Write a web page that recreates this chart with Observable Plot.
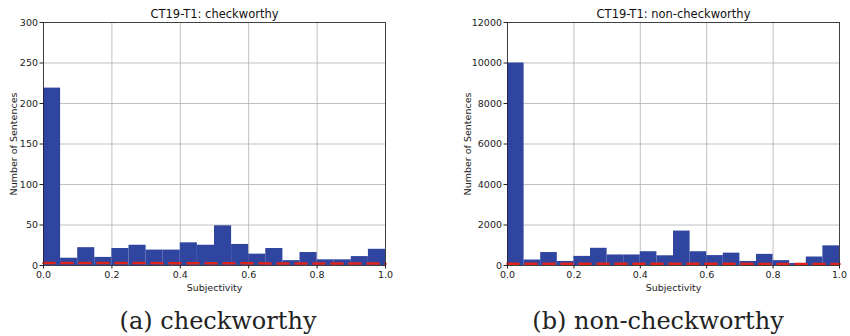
<!DOCTYPE html>
<html><head><meta charset="utf-8">
<script src="https://cdn.jsdelivr.net/npm/d3@7"></script>
<script src="https://cdn.jsdelivr.net/npm/@observablehq/plot@0.6"></script>
<style>
body{margin:0;background:#fff;}
#wrap{position:relative;width:850px;height:336px;overflow:hidden;}
.panel{position:absolute;top:0;}
.cap{position:absolute;top:306px;font-family:"DejaVu Serif","Liberation Serif",serif;font-size:24px;color:#222;white-space:nowrap;transform:translateX(-50%);line-height:30px;}
</style></head><body>
<div id="wrap">
  <div class="panel" id="p1" style="left:0px"></div>
  <div class="panel" id="p2" style="left:425px"></div>
  <div class="cap" style="left:218px">(a) checkworthy</div>
  <div class="cap" style="left:658px">(b) non-checkworthy</div>
</div>
<script>
const binStart = [0.00,0.05,0.10,0.15,0.20,0.25,0.30,0.35,0.40,0.45,0.50,0.55,0.60,0.65,0.70,0.75,0.80,0.85,0.90,0.95];
const binWidth = 0.05;
const checkworthy = [219,9,22,10,21,25,19,19,28,25,49,26,14,21,6,16,7,7,11,20];
const nonCheckworthy = [10000,270,640,200,450,850,520,520,680,480,1700,680,490,610,200,550,240,100,420,970];
const redX = [0,0.25,0.5,0.75,1];
const redCheck = [3,3,2.8,2.5,2.3];
const redNon = [90,90,85,80,80];
const xTicks = [0,0.2,0.4,0.6,0.8,1.0];
const yTicksCheck = [0,50,100,150,200,250,300];
const yTicksNon = [0,2000,4000,6000,8000,10000,12000];
const titles = ["CT19-T1: checkworthy","CT19-T1: non-checkworthy"];

function panel(values, red, yTicks, yMax, title, ml, mr, labelOffset) {
  const data = binStart.map((b,i)=>({x1:b, x2:b+binWidth, y:values[i]}));
  return Plot.plot({
    width: 425, height: 300,
    marginLeft: ml, marginRight: mr, marginTop: 22, marginBottom: 35,
    style: {fontFamily: "DejaVu Sans, sans-serif", fontSize: "9.5px", color: "#222", background: "#fff"},
    x: {domain: [0,1]},
    y: {domain: [0,yMax]},
    marks: [
      Plot.gridX(xTicks, {stroke: "#b0b0b0", strokeOpacity: 1, strokeWidth: 0.8}),
      Plot.gridY(yTicks, {stroke: "#b0b0b0", strokeOpacity: 1, strokeWidth: 0.8}),
      Plot.rectY(data, {x1:"x1", x2:"x2", y:"y", fill:"#2f45a0", inset:0}),
      Plot.lineY(red, {x:(d,i)=>redX[i], y:d=>d, stroke:"#e0241c", strokeWidth:2.5, strokeDasharray:"11,7"}),
      Plot.frame({stroke:"#222", strokeWidth:0.8}),
      Plot.axisX(xTicks, {tickSize:3.5, tickPadding:2, tickFormat:d3.format(".1f"), label:"Subjectivity", labelAnchor:"center", labelOffset:25, labelArrow:"none"}),
      Plot.axisY(yTicks, {tickSize:3.5, tickPadding:2, tickFormat:d=>String(d), label:"Number of Sentences", labelAnchor:"center", labelOffset:labelOffset, labelArrow:"none"}),
      Plot.text([title], {frameAnchor:"top", dy:-5, text:d=>d, fontSize:11.5, fill:"#111", lineAnchor:"bottom"})
    ]
  });
}
document.getElementById("p1").append(panel(checkworthy, redCheck, yTicksCheck, 300, titles[0], 43, 40, 33));
document.getElementById("p2").append(panel(nonCheckworthy, redNon, yTicksNon, 12000, titles[1], 82, 11, 43));
</script>
</body></html>
